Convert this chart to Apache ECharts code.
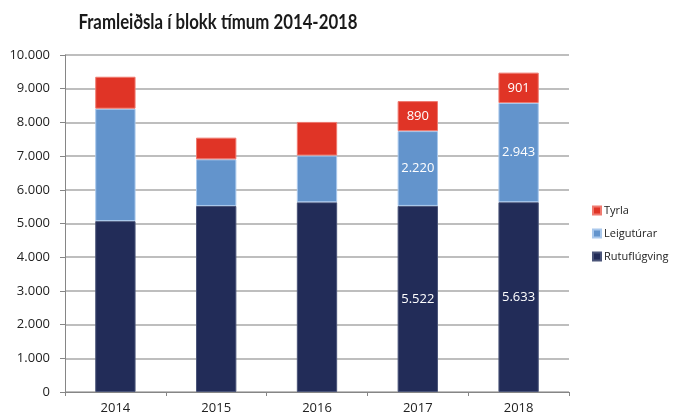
<!DOCTYPE html>
<html>
<head>
<meta charset="utf-8">
<script src="https://cdn.jsdelivr.net/npm/echarts@6/dist/echarts.min.js"></script>
<style>
  html, body { margin: 0; padding: 0; background: #fff; }
  #chart { width: 677px; height: 417px; }
</style>
</head>
<body>
<div id="chart"></div>
<script>
var years = ['2014', '2015', '2016', '2017', '2018'];
var rutuflugving = [5071, 5520, 5630, 5522, 5633];
var leigutur = [3336, 1384, 1386, 2220, 2943];
var tyrla = [948, 643, 998, 890, 901];
// only these years carry value labels in the original
var labelledYears = ['2017', '2018'];

var chart = echarts.init(document.getElementById('chart'));

function fmt(v) {
    return String(Math.round(v)).replace(/\B(?=(\d{3})+(?!\d))/g, '.');
}

function withLabels(values) {
    return values.map(function (v, i) {
        return {
            value: v,
            label: { show: labelledYears.indexOf(years[i]) !== -1 }
        };
    });
}

var barLabel = {
    position: 'inside',
    color: '#fff',
    fontFamily: 'Open Sans',
    fontSize: 13,
    formatter: function (p) { return fmt(p.value); }
};

var option = {
    animation: false,
    // title as graphic text so it can be squeezed a bit horizontally
    graphic: [{
        type: 'text',
        x: 218,
        y: 22,
        scaleX: 0.8,
        style: {
            text: 'Framleiðsla í blokk tímum 2014-2018',
            fontFamily: 'Lato',
            fontWeight: 'bold',
            fontSize: 21,
            fill: '#1a1a1a',
            align: 'center',
            verticalAlign: 'middle'
        }
    }],
    legend: {
        orient: 'vertical',
        left: 587,
        top: 200,
        itemWidth: 8,
        itemHeight: 8,
        itemGap: 12,
        icon: 'rect',
        data: ['Tyrla', 'Leigutúrar', 'Rutuflúgving'],
        textStyle: { fontFamily: 'Open Sans', fontSize: 11, color: '#222', padding: [0, 0, 0, -2] }
    },
    grid: { left: 65, right: 108, top: 55, bottom: 25 },
    xAxis: {
        type: 'category',
        data: years,
        axisLine: { lineStyle: { color: '#868686' } },
        axisTick: { show: true, length: 4, lineStyle: { color: '#868686' } },
        axisLabel: { fontFamily: 'Open Sans', fontSize: 13, color: '#222', margin: 10 }
    },
    yAxis: {
        type: 'value',
        min: 0,
        max: 10000,
        interval: 1000,
        axisLine: { show: true, lineStyle: { color: '#868686' } },
        axisTick: { show: true, length: 5, lineStyle: { color: '#868686' } },
        splitLine: { lineStyle: { color: '#a9a9a9', width: 1.5 } },
        axisLabel: {
            fontFamily: 'Open Sans',
            fontSize: 13,
            color: '#222',
            margin: 15,
            formatter: fmt
        }
    },
    series: [
        {
            name: 'Rutuflúgving',
            type: 'bar',
            stack: 'total',
            barWidth: '40%',
            data: withLabels(rutuflugving),
            label: barLabel,
            itemStyle: { color: '#222c58', borderColor: '#4a5478', borderWidth: 1 }
        },
        {
            name: 'Leigutúrar',
            type: 'bar',
            stack: 'total',
            data: withLabels(leigutur),
            label: barLabel,
            itemStyle: { color: '#6394cc', borderColor: '#a9c8ec', borderWidth: 1 }
        },
        {
            name: 'Tyrla',
            type: 'bar',
            stack: 'total',
            data: withLabels(tyrla),
            label: barLabel,
            itemStyle: { color: '#e03426', borderColor: '#ef7a70', borderWidth: 1 }
        }
    ]
};

chart.setOption(option);
</script>
</body>
</html>
